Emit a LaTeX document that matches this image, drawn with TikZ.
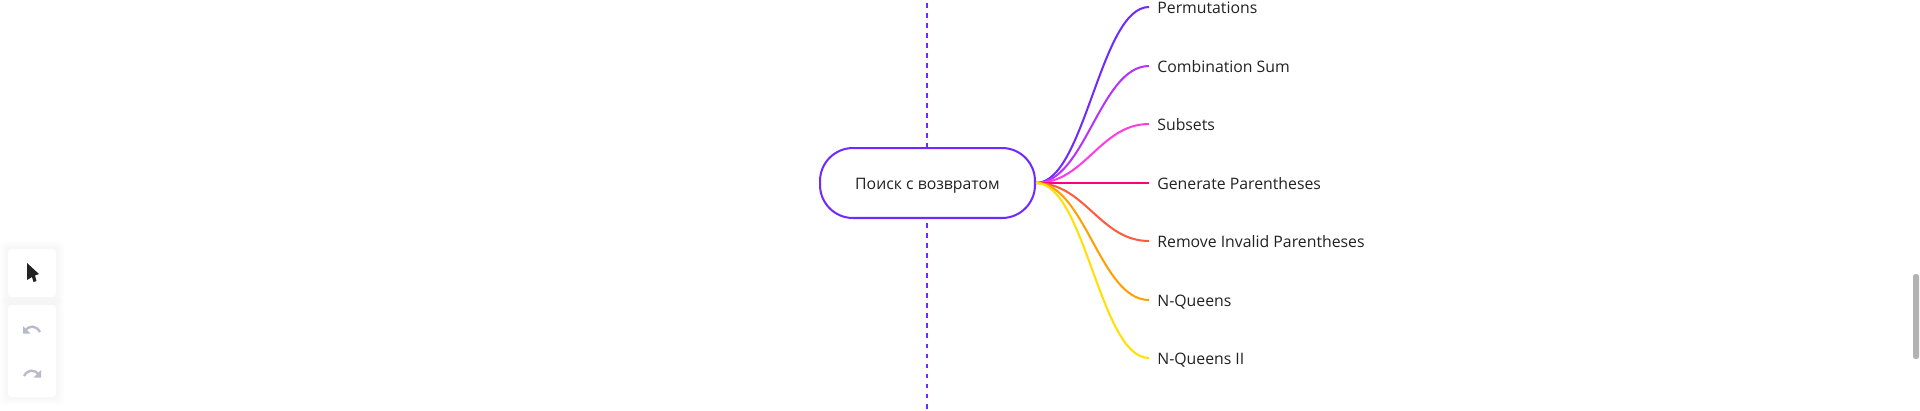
\documentclass[tikz,border=0pt]{standalone}
\usepackage{fontspec}
\setmainfont{Open Sans}
\definecolor{mapA}{RGB}{111,43,255}
\definecolor{mapB}{RGB}{182,50,255}
\definecolor{mapC}{RGB}{255,60,225}
\definecolor{mapD}{RGB}{255,0,125}
\definecolor{mapE}{RGB}{255,90,60}
\definecolor{mapF}{RGB}{255,160,0}
\definecolor{mapG}{RGB}{255,224,0}
\definecolor{mapT}{RGB}{34,34,34}
\definecolor{mapI}{RGB}{184,186,204}
\tikzset{
 rootbox/.style={draw=mapA,line width=1.15pt,fill=white,rounded corners=0.66cm,minimum width=4.3cm,minimum height=1.4cm,inner sep=0pt,text=mapT,text height=7.9pt,text depth=0pt,font=\fontsize{9}{10}\selectfont},
 leaftext/.style={anchor=west,inner xsep=0.16cm,inner ysep=0pt,text=mapT,text height=7.9pt,text depth=0pt,font=\fontsize{9}{10}\selectfont},
 toolbox/.style={fill=white,rounded corners=0.08cm},
}
\begin{document}
\begin{tikzpicture}[x=0.02cm,y=-0.02cm]
\useasboundingbox (0,0) rectangle (1920,410);
\fill[white] (0,0) rectangle (1920,410);
\draw[mapA,line width=0.6pt,dash pattern=on 2.8pt off 2.9pt] (927,3)--(927,410);
\node[rootbox] (root) at (927.5,183) {Поиск с возвратом};
\foreach \nm/\lbl/\yy/\col in {perm/Permutations/7/mapA,comb/Combination Sum/66/mapB,subs/Subsets/124/mapC,genp/Generate Parentheses/183/mapD,remv/Remove Invalid Parentheses/241/mapE,nqa/N-Queens/300/mapF,nqb/N-Queens II/358/mapG} {
 \node[leaftext] (\nm) at (1149,\yy) {\lbl};
 \draw[\col,line width=1.15pt] (root.east) .. controls (1085,183) and (1100,\yy) .. (\nm.west);
}
\foreach \d in {8,6,4,2} {
 \fill[black,opacity=0.008,rounded corners=0.1cm] (8-\d,249-\d) rectangle (56+\d,297+\d);
 \fill[black,opacity=0.008,rounded corners=0.1cm] (8-\d,305-\d) rectangle (56+\d,397+\d);
}
\fill[toolbox] (8,249) rectangle (56,297);
\fill[toolbox] (8,305) rectangle (56,397);
\fill[mapT] (27,263)--(39,274)--(35,275.5)--(36.5,281)--(33.5,282)--(32,277)--(27,280)--cycle;
\draw[mapI,line width=1.3pt] (25,331) .. controls (29,325) and (36,325) .. (40,332);
\fill[mapI] (23,326)--(23,333.5)--(30.5,333.5)--cycle;
\draw[mapI,line width=1.3pt] (24,376) .. controls (28,369) and (35,369) .. (39,375);
\fill[mapI] (41,370)--(41,377.5)--(33.5,377.5)--cycle;
\fill[black!30,rounded corners=0.05cm] (1913,274) rectangle (1919,359);
\end{tikzpicture}
\end{document}
